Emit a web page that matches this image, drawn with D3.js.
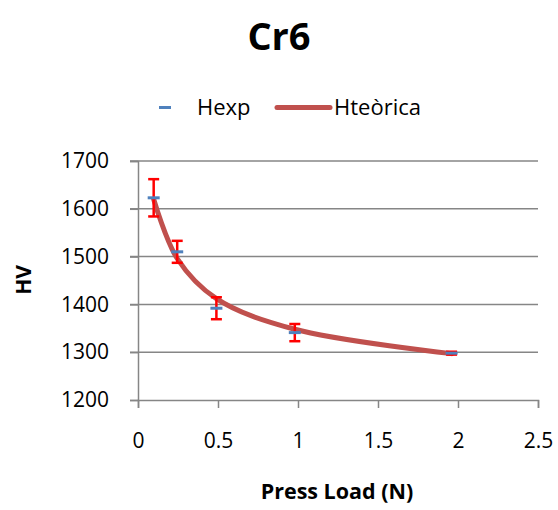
<!DOCTYPE html>
<html><head><meta charset="utf-8">
<script src="https://cdn.jsdelivr.net/npm/d3@7"></script>
<style>body{margin:0;background:#fff;} text{font-family:"Open Sans",sans-serif;fill:#000;}</style>
</head><body>
<svg id="c" width="558" height="510"></svg>
<script>
const loads = [0.098, 0.245, 0.49, 0.98, 1.96];
const hexp = [1623, 1510, 1392, 1341, 1298];
const hexpErr = [39, 23, 23, 18, 3];
const hteorica = [1620, 1496, 1412, 1348, 1297];
const xTicks = [0, 0.5, 1, 1.5, 2, 2.5];
const yTicks = [1200, 1300, 1400, 1500, 1600, 1700];

const svg = d3.select("#c");
const x = d3.scaleLinear().domain([0, 2.5]).range([138, 538]);
const y = d3.scaleLinear().domain([1200, 1700]).range([400, 161]);
const gray = "#868686";
const FONT = "Open Sans";

// grid
svg.append("g").selectAll("line").data(yTicks.slice(1)).join("line")
  .attr("x1", 130).attr("x2", 538).attr("y1", d => y(d)).attr("y2", d => y(d))
  .attr("stroke", gray).attr("stroke-width", 1.5);

// y axis
const ya = svg.append("g").attr("transform", "translate(138,0)")
  .call(d3.axisLeft(y).tickValues(yTicks).tickSize(8).tickPadding(21).tickFormat(d3.format("d")));
ya.select(".domain").attr("stroke", gray).attr("stroke-width", 1.5);
ya.selectAll(".tick line").attr("stroke", gray).attr("stroke-width", 1.5);
ya.selectAll("text").attr("font-size", 21).attr("font-family", FONT);

// x axis
const xa = svg.append("g").attr("transform", "translate(0,400)")
  .call(d3.axisBottom(x).tickValues(xTicks).tickSize(8).tickPadding(25).tickFormat(d => d));
xa.select(".domain").attr("stroke", gray).attr("stroke-width", 1.5);
xa.selectAll(".tick line").attr("stroke", gray).attr("stroke-width", 1.5);
xa.selectAll("text").attr("font-size", 21).attr("font-family", FONT);

// theoretical curve
const line = d3.line().x((d, i) => x(loads[i])).y(d => y(d)).curve(d3.curveCatmullRom.alpha(0.5));
svg.append("path").datum(hteorica).attr("d", line)
  .attr("fill", "none").attr("stroke", "#C0504D").attr("stroke-width", 5).attr("stroke-linecap", "round");

// error bars
const eb = svg.append("g").attr("stroke", "#FF0000").attr("stroke-width", 2.5);
loads.forEach((l, i) => {
  const cx = x(l), t = y(hexp[i] + hexpErr[i]), b = y(hexp[i] - hexpErr[i]);
  eb.append("line").attr("x1", cx).attr("x2", cx).attr("y1", t).attr("y2", b);
  eb.append("line").attr("x1", cx - 5.5).attr("x2", cx + 5.5).attr("y1", t).attr("y2", t);
  eb.append("line").attr("x1", cx - 5.5).attr("x2", cx + 5.5).attr("y1", b).attr("y2", b);
});

// Hexp markers (dash)
svg.append("g").selectAll("line").data(hexp).join("line")
  .attr("x1", (d, i) => x(loads[i]) - 6).attr("x2", (d, i) => x(loads[i]) + 6)
  .attr("y1", d => y(d)).attr("y2", d => y(d))
  .attr("stroke", "#4F81BD").attr("stroke-width", 3);

// title
svg.append("text").attr("x", 279).attr("y", 50).attr("text-anchor", "middle")
  .attr("font-size", 38).attr("font-weight", "bold").text("Cr6");

// legend
svg.append("line").attr("x1", 159).attr("x2", 171).attr("y1", 107.5).attr("y2", 107.5)
  .attr("stroke", "#4F81BD").attr("stroke-width", 3);
svg.append("text").attr("x", 197).attr("y", 115).attr("font-size", 22).text("Hexp");
svg.append("line").attr("x1", 277).attr("x2", 330).attr("y1", 107.5).attr("y2", 107.5)
  .attr("stroke", "#C0504D").attr("stroke-width", 5).attr("stroke-linecap", "round");
svg.append("text").attr("x", 334).attr("y", 115).attr("font-size", 22).text("Hteòrica");

// axis titles
svg.append("text").attr("x", 337).attr("y", 499).attr("text-anchor", "middle")
  .attr("font-size", 21.5).attr("font-weight", "bold").text("Press Load (N)");
svg.append("text").attr("transform", "translate(31,280) rotate(-90)").attr("text-anchor", "middle")
  .attr("font-size", 21).attr("font-weight", "bold").text("HV");
</script>
</body></html>
